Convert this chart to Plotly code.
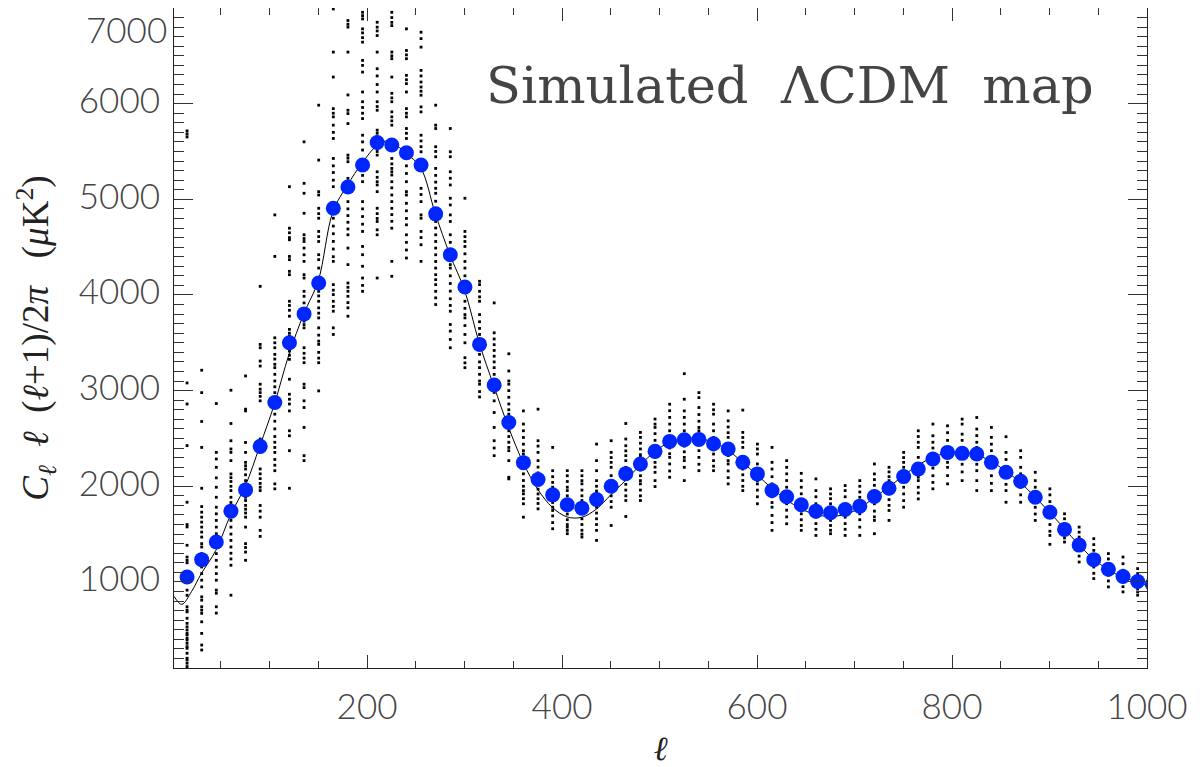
import plotly.graph_objects as go

# ---- binned power spectrum (blue points) ----
ell_bins = [15.4, 30.4, 45.4, 60.4, 75.4, 90.4, 105.4, 120.4, 135.4, 150.4,
            165.4, 180.4, 195.4, 210.4, 225.4, 240.4, 255.4, 270.4, 285.4, 300.4,
            315.4, 330.4, 345.4, 360.4, 375.4, 390.4, 405.4, 420.4, 435.4, 450.4,
            465.4, 480.4, 495.4, 510.4, 525.4, 540.4, 555.4, 570.4, 585.4, 600.4,
            615.4, 630.4, 645.4, 660.4, 675.4, 690.4, 705.4, 720.4, 735.4, 750.4,
            765.4, 780.4, 795.4, 810.4, 825.4, 840.4, 855.4, 870.4, 885.4, 900.4,
            915.4, 930.4, 945.4, 960.4, 975.4, 990.4, 1005.4]
cl_bins = [1052, 1233, 1417, 1740, 1962, 2417, 2875, 3500, 3802, 4125,
           4906, 5129, 5358, 5594, 5567, 5486, 5358, 4848, 4421, 4083,
           3483, 3059, 2667, 2247, 2070, 1910, 1806, 1771, 1861, 2000,
           2132, 2233, 2365, 2469, 2486, 2490, 2445, 2390, 2250, 2129,
           1955, 1890, 1806, 1740, 1723, 1757, 1792, 1893, 1979, 2101,
           2181, 2285, 2354, 2344, 2337, 2250, 2146, 2052, 1885, 1729,
           1549, 1385, 1233, 1132, 1056, 1004, 975]

# ---- theory curve ----
ell_theory = [2, 10, 20, 30, 45, 60, 75, 90, 105, 120, 135, 150, 165, 180, 195, 210,
              222, 240, 255, 270, 285, 300, 315, 330, 345, 360, 375, 390, 405, 420,
              435, 450, 465, 480, 495, 510, 525, 540, 555, 570, 585, 600, 615, 630,
              645, 660, 675, 690, 705, 720, 735, 750, 765, 780, 795, 810, 825, 840,
              855, 870, 885, 900, 915, 930, 945, 960, 975, 990, 1000]
cl_theory = [850, 765, 900, 1087, 1330, 1700, 2000, 2420, 2860, 3380, 3800, 4150, 4870,
             5150, 5380, 5560, 5610, 5480, 5330, 4850, 4420, 4050, 3500, 3050, 2620,
             2250, 1970, 1780, 1680, 1675, 1760, 1910, 2060, 2220, 2360, 2460, 2500,
             2500, 2460, 2380, 2250, 2120, 1980, 1860, 1765, 1705, 1685, 1705, 1770,
             1880, 1990, 2110, 2220, 2300, 2350, 2360, 2330, 2260, 2160, 2040, 1890,
             1730, 1560, 1390, 1240, 1130, 1050, 1000, 960]

# ---- simulated realisations (black dots), one list per bin ----
sims = [
    [5715, 5683, 5652, 3080, 2860, 2425, 1833, 1600, 1575, 1383, 1260, 1226, 1200, 914, 860, 740, 705, 687, 620, 567, 530, 497, 462, 445, 410, 392, 358, 323, 306, 254, 202, 184, 150, 115],
    [3213, 2979, 2677, 2406, 1979, 1788, 1729, 1677, 1625, 1573, 1521, 1469, 1400, 1365, 1296, 1156, 1087, 1018, 948, 844, 809, 740, 705, 671, 583, 462, 340, 288],
    [2865, 2354, 2285, 2198, 2088, 1990, 1885, 1781, 1712, 1643, 1573, 1504, 1434, 1296, 1226, 1156, 1087, 1018, 914, 882, 740, 674],
    [3004, 2656, 2476, 2390, 2354, 2268, 2129, 2090, 2050, 2000, 1955, 1885, 1830, 1780, 1720, 1680, 1643, 1573, 1500, 1434, 1365, 1300, 1240, 1174, 861],
    [3153, 2806, 2788, 2458, 2354, 2250, 2215, 2180, 2120, 2059, 2025, 1990, 1950, 1920, 1885, 1851, 1800, 1760, 1720, 1677, 1573, 1400, 1360, 1312, 1226],
    [4090, 3483, 3448, 3309, 3257, 3067, 3015, 2979, 2940, 2893, 2494, 2450, 2400, 2354, 2181, 2130, 2080, 2030, 1990, 1955, 1799, 1740, 1677, 1539, 1476],
    [4837, 4403, 3552, 3500, 3448, 3379, 3330, 3275, 3240, 3170, 3101, 3040, 2979, 2930, 2893, 2754, 2680, 2600, 2520, 2460, 2406, 2354, 2280, 2220, 2163, 2025, 1973],
    [5132, 4698, 4650, 4600, 4577, 4403, 4369, 4247, 4212, 3934, 3890, 3840, 3778, 3640, 3600, 3570, 3414, 3370, 3327, 3119, 2962, 2910, 2860, 2788, 2580, 2528, 2372, 1979],
    [5601, 5167, 5063, 4854, 4629, 4590, 4559, 4490, 4420, 4351, 4212, 4177, 4038, 3986, 3917, 3726, 3690, 3656, 3448, 3390, 3340, 3292, 3067, 3031, 2893, 2823, 2615, 2320, 2268],
    [5984, 5410, 5080, 5045, 4906, 4850, 4802, 4664, 4610, 4559, 4421, 4369, 4281, 4038, 3990, 3934, 3865, 3810, 3760, 3656, 3580, 3517, 3483, 3400, 3340, 3292, 2997],
    [6990, 6539, 6278, 5948, 5900, 5862, 5775, 5700, 5636, 5427, 5350, 5280, 5200, 5132, 4802, 4720, 4640, 4560, 4480, 4400, 4351, 4108, 4050, 4004, 3934, 3880, 3830, 3656, 3587],
    [6869, 6830, 6800, 6539, 6091, 5931, 5896, 5792, 5462, 5430, 5393, 5219, 5160, 5115, 4976, 4900, 4830, 4760, 4690, 4629, 4490, 4317, 4125, 4080, 4038, 3986, 3920, 3865, 3778],
    [6955, 6920, 6886, 6782, 6740, 6690, 6643, 6452, 6400, 6330, 6122, 6020, 5960, 5900, 5844, 5670, 5600, 5515, 5323, 5250, 5184, 4976, 4900, 4820, 4740, 4664, 4507, 4421, 4300, 4177, 4100, 4038],
    [6851, 6800, 6760, 6712, 6539, 6365, 6290, 6200, 6122, 6020, 5970, 5931, 5723, 5690, 5653, 5532, 5500, 5462, 5288, 5230, 5184, 5150, 5080, 4906, 4850, 4800, 4768, 4681, 4629, 4177],
    [6955, 6900, 6850, 6816, 6539, 6500, 6470, 6278, 6108, 6060, 6020, 5914, 5862, 5820, 5775, 5427, 5370, 5323, 5288, 5254, 5184, 5120, 5045, 4976, 4906, 4840, 4770, 4698, 4351, 4195],
    [6782, 6556, 6510, 6470, 6296, 6250, 6209, 6122, 5948, 5900, 5862, 5740, 5690, 5636, 5532, 5427, 5350, 5270, 5184, 5080, 5045, 4958, 4880, 4800, 4733, 4629, 4550, 4470, 4386],
    [6747, 6680, 6591, 6348, 6290, 6226, 6174, 6130, 6088, 5966, 5914, 5670, 5610, 5550, 5497, 5400, 5340, 5115, 5050, 4976, 4837, 4802, 4664, 4600, 4525, 4351],
    [5984, 5775, 5740, 5550, 5500, 5445, 5323, 5250, 5180, 5115, 5063, 4980, 4906, 4768, 4700, 4629, 4559, 4490, 4420, 4350, 4281, 4212, 4160, 4108, 4038, 3970, 3900],
    [5740, 5497, 5445, 5288, 5220, 5150, 5011, 4941, 4837, 4768, 4629, 4550, 4470, 4390, 4317, 4281, 4200, 4120, 4040, 3960, 3890, 3830, 3691, 3622, 3535, 3448],
    [5011, 4664, 4610, 4559, 4507, 4430, 4350, 4281, 4200, 4120, 4038, 3934, 3860, 3795, 3760, 3680, 3587, 3500, 3344, 3290, 3240],
    [4143, 4108, 4038, 3980, 3934, 3795, 3720, 3650, 3587, 3379, 3300, 3240, 3170, 3101, 3067, 2990, 2934],
    [3917, 3604, 3540, 3480, 3420, 3360, 3300, 3240, 3170, 3101, 3040, 2980, 2893, 2771, 2615, 2476, 2400, 2320],
    [3385, 3205, 3101, 3067, 3000, 2930, 2860, 2800, 2754, 2702, 2640, 2580, 2520, 2460, 2406, 2372, 2268, 2094, 2077],
    [2788, 2650, 2580, 2510, 2440, 2372, 2337, 2270, 2200, 2130, 2060, 2000, 1955, 1921, 1870, 1817, 1677],
    [2806, 2476, 2420, 2354, 2268, 2200, 2140, 2094, 2025, 1970, 1920, 1870, 1820, 1764],
    [2406, 2163, 2100, 2040, 1990, 1955, 1938, 1880, 1830, 1781, 1747, 1690, 1620, 1556],
    [2163, 2110, 2050, 1990, 1955, 1900, 1851, 1764, 1710, 1650, 1600, 1573, 1539, 1504],
    [2163, 2110, 2059, 2025, 1960, 1900, 1851, 1712, 1660, 1600, 1540, 1500, 1469],
    [2441, 2268, 2163, 2059, 2000, 1950, 1921, 1781, 1720, 1660, 1600, 1539, 1434],
    [2476, 2354, 2300, 2250, 2198, 2111, 2060, 2025, 1955, 1900, 1840, 1781, 1590],
    [2656, 2494, 2424, 2370, 2320, 2268, 2198, 2140, 2080, 2020, 1960, 1900, 1851, 1684],
    [2563, 2511, 2450, 2390, 2330, 2302, 2233, 2170, 2110, 2059, 2025, 1960, 1900, 1851],
    [2702, 2650, 2615, 2550, 2480, 2406, 2302, 2250, 2200, 2146, 2059, 1997],
    [2858, 2790, 2720, 2650, 2580, 2520, 2460, 2400, 2340, 2302, 2233, 2160, 2094],
    [3177, 2910, 2788, 2720, 2650, 2580, 2476, 2420, 2360, 2302, 2268, 2198, 2059],
    [2979, 2927, 2823, 2750, 2680, 2615, 2580, 2510, 2440, 2372, 2302, 2230, 2163],
    [2858, 2800, 2754, 2650, 2580, 2510, 2440, 2380, 2337, 2268, 2210, 2163],
    [2788, 2684, 2620, 2560, 2511, 2441, 2380, 2320, 2268, 2233, 2160, 2090, 2025],
    [2796, 2563, 2510, 2460, 2406, 2302, 2240, 2180, 2120, 2060, 2000, 1955],
    [2441, 2390, 2337, 2233, 2170, 2110, 2059, 2025, 1960, 1890, 1817],
    [2406, 2250, 2180, 2100, 2025, 1955, 1890, 1830, 1781, 1695, 1620, 1539],
    [2268, 2198, 2130, 2060, 1990, 1817, 1750, 1680, 1608],
    [2135, 2059, 1990, 1921, 1712, 1650, 1590, 1539],
    [2077, 1955, 1890, 1817, 1677, 1610, 1550, 1486],
    [1973, 1920, 1870, 1817, 1643, 1590, 1540, 1504],
    [2007, 1955, 1890, 1817, 1677, 1610, 1550, 1486],
    [2059, 2000, 1940, 1885, 1712, 1650, 1573, 1486],
    [2233, 2129, 2070, 2010, 1955, 1817, 1740, 1680, 1643, 1504],
    [2198, 2150, 2100, 2059, 1921, 1860, 1800, 1747, 1643],
    [2354, 2300, 2250, 2198, 2059, 1990, 1920, 1850, 1781],
    [2580, 2520, 2460, 2406, 2302, 2230, 2160, 2094, 2059, 1990, 1930, 1868],
    [2650, 2528, 2460, 2400, 2337, 2268, 2190, 2110, 2040, 1973],
    [2632, 2560, 2480, 2406, 2302, 2250, 2198, 2111, 2025],
    [2702, 2650, 2545, 2480, 2406, 2302, 2230, 2150, 2059],
    [2719, 2598, 2530, 2460, 2406, 2302, 2230, 2163, 2059, 1955],
    [2615, 2511, 2440, 2372, 2198, 2110, 2030, 1955],
    [2518, 2354, 2280, 2198, 2094, 2020, 1955, 1833],
    [2372, 2302, 2198, 2130, 2059, 1990, 1910, 1833],
    [2146, 2059, 1990, 1921, 1851, 1780, 1710, 1643],
    [1973, 1910, 1840, 1781, 1677, 1600, 1530, 1486, 1393],
    [1712, 1660, 1608, 1504, 1460, 1417],
    [1573, 1520, 1469, 1330, 1270, 1208],
    [1452, 1390, 1330, 1156, 1090, 1035],
    [1296, 1240, 1192, 1070, 1010, 948],
    [1260, 1190, 1122, 1000, 950, 896],
    [1139, 1087, 931, 896, 861],
    [1000, 960, 930],
]

x_tick_vals = [200, 400, 600, 800, 1000]
y_tick_vals = [1000, 2000, 3000, 4000, 5000, 6000]
y_top_label = 7000
title_text = "Simulated\u00a0 \u039bCDM\u00a0 map"

sim_x, sim_y = [], []
for l, vals in zip(ell_bins, sims):
    for v in vals:
        sim_x.append(l)
        sim_y.append(v)

fig = go.Figure()
fig.add_trace(go.Scatter(x=sim_x, y=sim_y, mode="markers",
                         marker=dict(symbol="square", size=2.8, color="black", line=dict(width=0)),
                         showlegend=False, hoverinfo="skip"))
fig.add_trace(go.Scatter(x=ell_theory, y=cl_theory, mode="lines",
                         line=dict(color="black", width=1, shape="spline", smoothing=1.0),
                         showlegend=False))
fig.add_trace(go.Scatter(x=ell_bins, y=cl_bins, mode="markers",
                         marker=dict(symbol="circle", size=15, color="#0026ff", line=dict(width=0)),
                         showlegend=False))

tick_font = dict(family="Lato", size=35, color="#444444", weight=300)
fig.update_xaxes(range=[2, 1000], tickvals=x_tick_vals, ticks="inside", ticklen=13, tickwidth=1,
                 tickcolor="#333", showline=True, linecolor="#222", linewidth=1, mirror="ticks",
                 showgrid=False, zeroline=False, tickfont=tick_font, ticklabelstandoff=8,
                 minor=dict(dtick=50, ticks="inside", ticklen=7, tickwidth=1, tickcolor="#333", showgrid=False),
                 title=dict(text="<i>\u2113</i>", font=dict(family="Liberation Serif", size=34, color="#222"),
                            standoff=16))
fig.update_yaxes(range=[100, 7000], tickvals=y_tick_vals + [y_top_label],
                 ticktext=[str(v) for v in y_tick_vals] + [" "],
                 ticks="inside", ticklen=19, tickwidth=1, ticklabelshift=-3,
                 tickcolor="#333", showline=True, linecolor="#222", linewidth=1, mirror="ticks",
                 showgrid=False, zeroline=False, tickfont=tick_font, ticklabelstandoff=6,
                 minor=dict(dtick=100, ticks="inside", ticklen=10, tickwidth=1, tickcolor="#333", showgrid=False),
                 title=dict(text="<i>C</i><sub><i>\u2113</i></sub>  <i>\u2113</i>  (<i>\u2113</i>+1)/2<i>\u03c0</i>   (<i>\u03bc</i>K<sup>2</sup>)",
                            font=dict(family="Liberation Serif", size=37, color="#222"), standoff=18))

fig.add_annotation(text=str(y_top_label), xref="paper", yref="y", x=0, y=y_top_label,
                   xanchor="right", yanchor="middle", xshift=-6, yshift=-21, borderpad=0,
                   showarrow=False, font=tick_font)
fig.add_annotation(text=title_text, xref="paper", yref="paper", x=0.948, y=0.882,
                   xanchor="right", yanchor="middle", showarrow=False,
                   font=dict(family="DejaVu Serif", size=51, color="#444444"))

fig.update_layout(width=1194, height=759, margin=dict(l=166, r=55, t=0, b=99),
                  plot_bgcolor="white", paper_bgcolor="white")

fig.write_html("out.html")
